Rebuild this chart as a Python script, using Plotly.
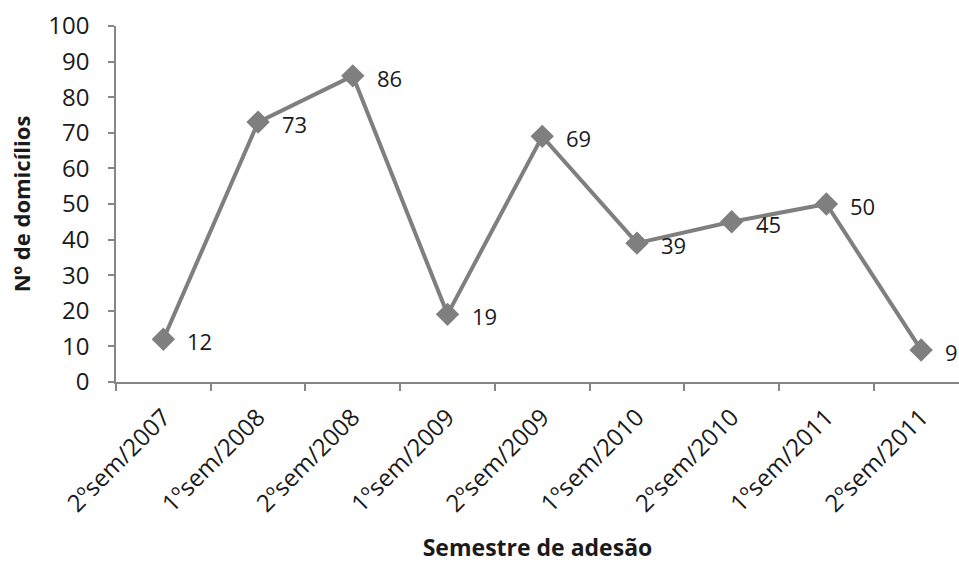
import plotly.graph_objects as go

categories = ["2ºsem/2007", "1ºsem/2008", "2ºsem/2008", "1ºsem/2009", "2ºsem/2009",
              "1ºsem/2010", "2ºsem/2010", "1ºsem/2011", "2ºsem/2011"]
values = [12, 73, 86, 19, 69, 39, 45, 50, 9]
y_ticks = [0, 10, 20, 30, 40, 50, 60, 70, 80, 90, 100]

FONT = "Open Sans"
GRAY = "#7f7f7f"
AXIS = "#868686"
TXT = "#1a1a1a"

fig = go.Figure()
fig.add_trace(go.Scatter(
    x=list(range(len(categories))), y=values, mode="lines+markers",
    line=dict(color=GRAY, width=4),
    marker=dict(symbol="diamond", size=18, color=GRAY),
    showlegend=False, cliponaxis=False, hoverinfo="skip",
))

for i, v in enumerate(values):
    fig.add_annotation(x=i, y=v, text=str(v), showarrow=False,
                       xanchor="left", yanchor="middle", xshift=22, yshift=-2,
                       font=dict(family=FONT, size=22, color=TXT))

fig.update_layout(
    template="none",
    width=959, height=563,
    margin=dict(l=116, r=0, t=26, b=181, autoexpand=False),
    plot_bgcolor="white", paper_bgcolor="white",
    font=dict(family=FONT, color=TXT),
)
fig.update_xaxes(
    automargin=False,
    range=[-0.5, 8.4],
    tickmode="array", tickvals=list(range(len(categories))), ticktext=categories,
    tickangle=-45, tickfont=dict(family=FONT, size=24, color=TXT),
    ticklabelstandoff=10,
    showline=True, linecolor=AXIS, linewidth=1.5,
    ticks="", ticklen=0, showgrid=False, zeroline=False,
    title=dict(text="<b>Semestre de adesão</b>", font=dict(family=FONT, size=23, color=TXT), standoff=28),
)
fig.update_xaxes(minor=dict(tickmode="array", tickvals=[i - 0.5 for i in range(len(categories))],
                            ticks="outside", ticklen=7, tickcolor=AXIS, tickwidth=1.5, showgrid=False))
fig.update_yaxes(
    automargin=False,
    range=[0, 100], tickvals=y_ticks,
    tickfont=dict(family=FONT, size=24, color=TXT),
    ticklabelstandoff=14,
    showline=True, linecolor=AXIS, linewidth=1.5,
    ticks="outside", ticklen=6, tickcolor=AXIS, tickwidth=1.5,
    showgrid=False, zeroline=False,
    title=dict(text="<b>Nº de domicílios</b>", font=dict(family=FONT, size=22, color=TXT), standoff=12),
)

fig.write_html("out.html", config={"displayModeBar": False},
               post_script="document.body.style.margin='0';document.body.style.overflow='hidden';")
